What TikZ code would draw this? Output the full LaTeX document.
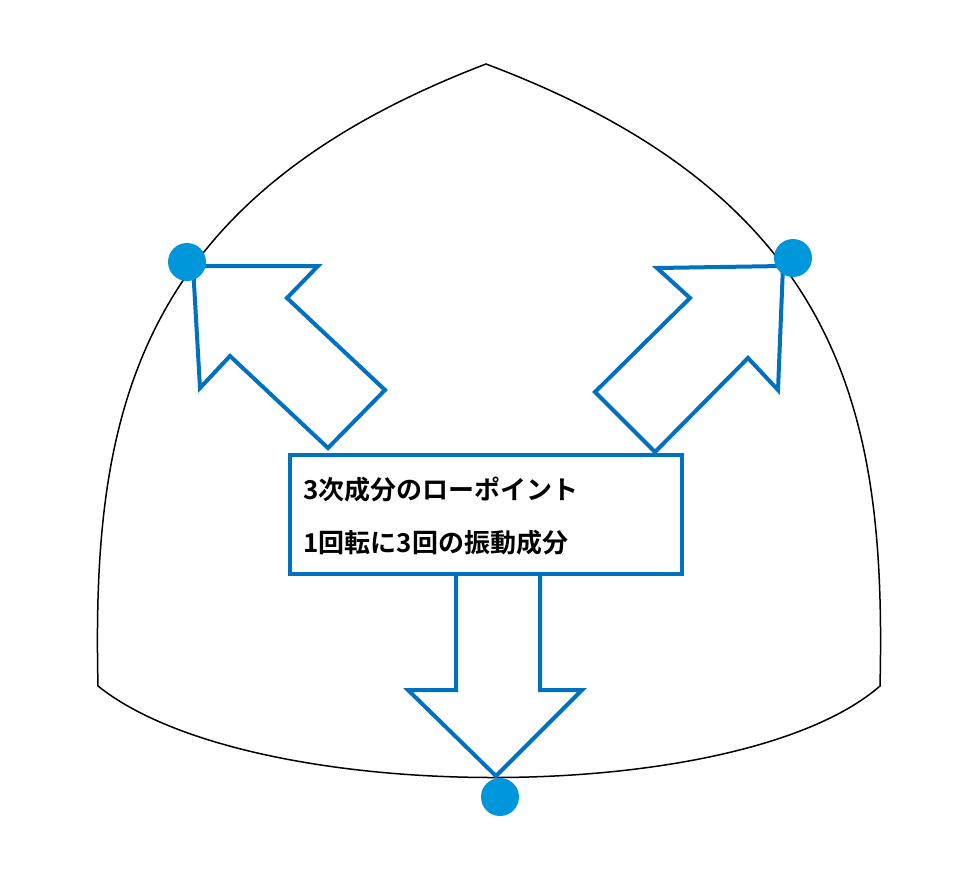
\documentclass[tikz,border=0pt]{standalone}
\usepackage{fontspec}
\newfontfamily\cjk{Noto Sans CJK JP}[BoldFont={Noto Sans CJK JP Bold}]
\definecolor{arrowblue}{RGB}{0,112,192}
\definecolor{dotblue}{RGB}{0,150,220}
\begin{document}
\begin{tikzpicture}[x=1pt,y=-1pt,
  arr/.style={draw=arrowblue,line width=4pt,fill=white,line join=miter},
  dot/.style={circle,fill=dotblue,minimum size=38pt,inner sep=0pt}]
\useasboundingbox (0,0) rectangle (979,868);
\draw[line width=1.5pt] (98,686) .. controls (92,420) and (130,200) .. (486,64)
  .. controls (848,200) and (886,420) .. (880,686)
  .. controls (740,808) and (250,808) .. cycle;
\draw[arr] (193,266) -- (318,266) -- (287,298) -- (385,390) -- (328,448) -- (230,356) -- (200,388) -- cycle;
\draw[arr] (783,266) -- (657,268) -- (690,298) -- (595,392) -- (655,452) -- (748,358) -- (778,390) -- cycle;
\draw[arr] (456,560) -- (456,690) -- (408,690) -- (496,776) -- (582,690) -- (540,690) -- (540,560) -- cycle;
\node[draw=arrowblue,line width=4pt,fill=white,minimum width=392pt,minimum height=119pt,inner sep=0pt] (box) at (486,514.5) {};
\node[anchor=west,font=\cjk\bfseries\fontsize{26}{30}\selectfont] (t1) at (300,490) {3次成分のローポイント};
\node[anchor=west,font=\cjk\bfseries\fontsize{26}{30}\selectfont] (t2) at (300,543) {1回転に3回の振動成分};
\node[dot] (d1) at (187,262) {};
\node[dot] (d2) at (793,258) {};
\node[dot] (d3) at (500,797) {};
\end{tikzpicture}
\end{document}
